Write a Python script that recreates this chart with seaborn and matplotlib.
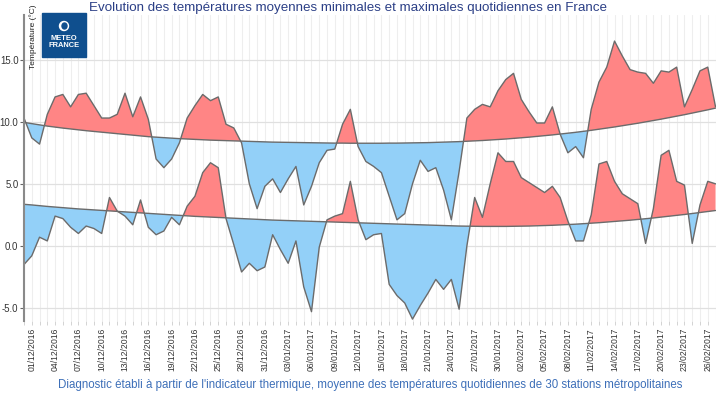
import numpy as np
import pandas as pd
import matplotlib
matplotlib.use('Agg')
import matplotlib.pyplot as plt
import seaborn as sns
from matplotlib.patches import Rectangle, Ellipse

# daily values from 30/11/2016 (day -1) to 27/02/2017 (day 88)
days = list(range(-1, 89))

tmax = [10.3, 8.7, 8.2, 10.6, 12.0, 12.2, 11.2, 12.2, 12.3, 11.3,
        10.3, 10.3, 10.6, 12.3, 10.4, 12.0, 10.2, 7.0, 6.3, 7.0,
        8.3, 10.3, 11.3, 12.2, 11.7, 12.0, 9.8, 9.5, 8.3, 5.0,
        3.0, 4.8, 5.4, 4.3, 5.4, 6.4, 3.3, 4.8, 6.7, 7.7,
        7.8, 9.8, 11.0, 8.0, 6.8, 6.4, 5.9, 4.0, 2.1, 2.6,
        5.0, 6.9, 6.0, 6.3, 4.5, 2.1, 6.0, 10.3, 11.0, 11.4,
        11.2, 12.5, 13.4, 13.9, 11.8, 10.8, 9.9, 9.9, 11.2, 9.0,
        7.5, 8.0, 7.1, 11.0, 13.2, 14.4, 16.5, 15.3, 14.2, 14.0,
        13.9, 13.1, 14.1, 14.0, 14.4, 11.2, 12.6, 14.1, 14.4, 11.2]

tmin = [-1.5, -0.8, 0.7, 0.4, 2.4, 2.2, 1.5, 1.0, 1.6, 1.4,
        1.0, 3.9, 2.8, 2.4, 1.7, 3.7, 1.5, 0.9, 1.2, 2.3,
        1.7, 3.2, 4.0, 5.9, 6.7, 6.3, 2.2, 0.1, -2.1, -1.4,
        -2.0, -1.7, 0.9, -0.3, -1.4, 0.4, -3.3, -5.3, -0.1, 2.1,
        2.4, 2.6, 5.2, 2.1, 0.5, 0.9, 1.0, -3.1, -4.0, -4.6,
        -5.9, -4.8, -3.8, -2.7, -3.5, -2.7, -5.1, 0.0, 3.9, 2.3,
        5.0, 7.5, 6.8, 6.8, 5.5, 5.1, 4.7, 4.3, 4.8, 3.9,
        2.0, 0.4, 0.4, 2.5, 6.6, 6.8, 5.2, 4.2, 3.8, 3.4,
        0.2, 3.0, 7.3, 7.7, 5.2, 4.9, 0.2, 3.3, 5.2, 5.0]

tmax_norm = [9.95, 9.85, 9.75, 9.65, 9.57, 9.49, 9.42, 9.35, 9.28, 9.22,
             9.16, 9.10, 9.04, 8.98, 8.92, 8.86, 8.80, 8.76, 8.72, 8.68,
             8.64, 8.61, 8.58, 8.55, 8.52, 8.50, 8.48, 8.46, 8.44, 8.42,
             8.40, 8.38, 8.36, 8.35, 8.34, 8.33, 8.32, 8.31, 8.30, 8.29,
             8.28, 8.28, 8.27, 8.27, 8.27, 8.27, 8.27, 8.28, 8.28, 8.29,
             8.30, 8.31, 8.32, 8.34, 8.36, 8.38, 8.40, 8.43, 8.46, 8.49,
             8.53, 8.57, 8.61, 8.66, 8.71, 8.76, 8.82, 8.88, 8.94, 9.01,
             9.08, 9.15, 9.23, 9.31, 9.40, 9.49, 9.58, 9.68, 9.78, 9.88,
             9.99, 10.10, 10.21, 10.33, 10.45, 10.57, 10.70, 10.83, 10.96, 11.10]

tmin_norm = [3.35, 3.30, 3.24, 3.18, 3.13, 3.08, 3.03, 2.98, 2.94, 2.90,
             2.86, 2.82, 2.78, 2.74, 2.70, 2.66, 2.62, 2.58, 2.54, 2.50,
             2.46, 2.42, 2.38, 2.35, 2.32, 2.29, 2.26, 2.23, 2.20, 2.17,
             2.14, 2.11, 2.08, 2.06, 2.04, 2.02, 2.00, 1.98, 1.96, 1.94,
             1.92, 1.90, 1.88, 1.86, 1.84, 1.82, 1.80, 1.78, 1.76, 1.74,
             1.72, 1.70, 1.68, 1.66, 1.64, 1.62, 1.60, 1.59, 1.58, 1.57,
             1.57, 1.57, 1.57, 1.58, 1.59, 1.60, 1.62, 1.64, 1.66, 1.69,
             1.72, 1.75, 1.79, 1.83, 1.87, 1.92, 1.97, 2.02, 2.07, 2.13,
             2.19, 2.25, 2.32, 2.39, 2.46, 2.53, 2.61, 2.69, 2.77, 2.85]

dates = pd.date_range('2016-11-30', periods=len(days))
tick_days = list(range(0, 88, 3))
tick_labels = [dates[d + 1].strftime('%d/%m/%Y') for d in tick_days]

title = "Evolution des températures moyennes minimales et maximales quotidiennes en France"
footer = ("Diagnostic établi à partir de l'indicateur thermique, moyenne des "
          "températures quotidiennes de 30 stations métropolitaines")

df = pd.DataFrame({'day': days, 'tmax': tmax, 'tmin': tmin,
                   'tmax_norm': tmax_norm, 'tmin_norm': tmin_norm})

sns.set_theme(style='white')
plt.rcParams['font.family'] = ['Liberation Sans', 'DejaVu Sans']

W, H = 716, 394
fig = plt.figure(figsize=(W / 100, H / 100), dpi=100)
ax = fig.add_axes([24 / W, 1 - 321 / H, 1 - 24 / W, (321 - 15) / H])

red = '#ff8585'
blue = '#93d0f8'
line_col = '#6b6b6b'

for obs, norm in [('tmax', 'tmax_norm'), ('tmin', 'tmin_norm')]:
    ax.fill_between(df.day, df[obs], df[norm], where=df[obs] >= df[norm],
                    interpolate=True, color=red, lw=0)
    ax.fill_between(df.day, df[obs], df[norm], where=df[obs] < df[norm],
                    interpolate=True, color=blue, lw=0)
    sns.lineplot(data=df, x='day', y=norm, color=line_col, lw=1, ax=ax)
    sns.lineplot(data=df, x='day', y=obs, color=line_col, lw=1, ax=ax)

ax.set_xlim(-0.77, 88.06)
ax.set_ylim(-6.05, 18.6)
ax.set_xlabel('')
ax.set_ylabel('')

ax.set_xticks(tick_days)
ax.set_xticklabels(tick_labels, rotation=90, fontsize=6.2, color='#333333')
ax.set_xticks(days, minor=True)
ax.set_yticks([-5, 0, 5, 10, 15])
ax.set_yticklabels(['-5.0', '0.0', '5.0', '10.0', '15.0'], fontsize=6.9, color='#333333')

ax.grid(which='both', axis='x', color='#eeeeee', lw=0.8)
ax.grid(which='major', axis='y', color='#e0e0e0', lw=0.9)
ax.set_axisbelow(True)

for s in ['top', 'right', 'bottom']:
    ax.spines[s].set_visible(False)
ax.spines['left'].set_color('#8a8a8a')
ax.spines['left'].set_linewidth(1.5)
ax.tick_params(axis='y', which='major', left=True, length=3, width=0.8, color='#666666', pad=1)
ax.tick_params(axis='x', which='both', bottom=True, length=3, width=0.6, color='#cccccc', pad=2)

# header, footer, logo
fig.text(348 / W, 1 - 8 / H, title, ha='center', va='center', color='#2b3f86', fontsize=9.6)
fig.text(370 / W, 1 - 385 / H, footer, ha='center', va='center', color='#3d6fb8', fontsize=8.3)
fig.text(33 / W, 1 - 37 / H, 'Température (°C)', rotation=90, ha='center', va='center',
         fontsize=6.0, color='#222222')

fig.add_artist(Rectangle((42 / W, 1 - 57 / H), 44 / W, 44 / H, transform=fig.transFigure,
                         color='#0f4f8e', zorder=5))
fig.add_artist(Ellipse((64 / W, 1 - 26 / H), 9 / W, 9 / H, transform=fig.transFigure,
                       color='white', zorder=6))
fig.add_artist(Ellipse((64.5 / W, 1 - 26 / H), 5 / W, 6 / H, transform=fig.transFigure,
                       color='#0f4f8e', zorder=7))
fig.text(64 / W, 1 - 42 / H, 'METEO\nFRANCE', ha='center', va='center', color='white',
         fontsize=5.4, fontweight='bold', linespacing=1.0, zorder=8)

fig.savefig('out.png', dpi=100)
